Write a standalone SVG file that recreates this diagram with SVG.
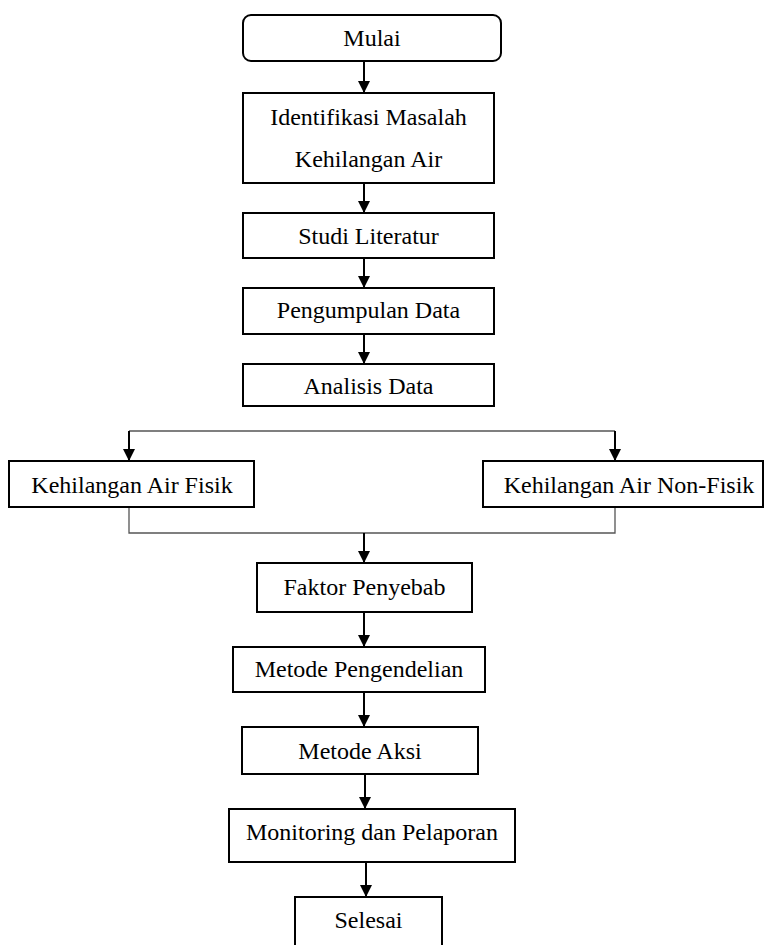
<svg xmlns="http://www.w3.org/2000/svg" width="764" height="945" viewBox="0 0 764 945">
  <style>
    .box { fill: #fff; stroke: #000; stroke-width: 2; }
    .lbl { font-family: "Liberation Serif", "Times New Roman", serif; font-size: 24px; fill: #000; text-anchor: middle; }
    .arrow { stroke: #000; stroke-width: 2; fill: none; marker-end: url(#ah); }
    .thin { stroke: #555; stroke-width: 1.3; fill: none; }
  </style>
  <defs>
    <marker id="ah" markerUnits="userSpaceOnUse" markerWidth="12" markerHeight="12" refX="12" refY="6" orient="auto">
      <path d="M0,0 L12,6 L0,12 z" fill="#000"/>
    </marker>
  </defs>
  <rect width="764" height="945" fill="#fff"/>

  <g id="connectors">
    <line class="arrow" x1="364" y1="61" x2="364" y2="93"/>
    <line class="arrow" x1="364" y1="183" x2="364" y2="213"/>
    <line class="arrow" x1="364" y1="258" x2="364" y2="288"/>
    <line class="arrow" x1="364" y1="334" x2="364" y2="364"/>
    <line class="thin" x1="129" y1="431" x2="615" y2="431"/>
    <line class="arrow" x1="129" y1="431" x2="129" y2="461"/>
    <line class="arrow" x1="615" y1="431" x2="615" y2="461"/>
    <polyline class="thin" points="129,507 129,533 615,533 615,507"/>
    <line class="arrow" x1="364" y1="533" x2="364" y2="563"/>
    <line class="arrow" x1="364" y1="612" x2="364" y2="647"/>
    <line class="arrow" x1="364" y1="692" x2="364" y2="727"/>
    <line class="arrow" x1="365" y1="774" x2="365" y2="809"/>
    <line class="arrow" x1="366" y1="862" x2="366" y2="897"/>
  </g>

  <g id="mulai">
    <rect class="box" x="243" y="15" width="258" height="46" rx="8"/>
    <text class="lbl" x="372" y="46">Mulai</text>
  </g>
  <g id="identifikasi">
    <rect class="box" x="243" y="93" width="251" height="90"/>
    <text class="lbl" x="368.5" y="125">Identifikasi Masalah</text>
    <text class="lbl" x="368.5" y="167">Kehilangan Air</text>
  </g>
  <g id="studi">
    <rect class="box" x="243" y="213" width="251" height="45"/>
    <text class="lbl" x="368.5" y="244">Studi Literatur</text>
  </g>
  <g id="pengumpulan">
    <rect class="box" x="243" y="288" width="251" height="46"/>
    <text class="lbl" x="368.5" y="318">Pengumpulan Data</text>
  </g>
  <g id="analisis">
    <rect class="box" x="243" y="364" width="251" height="42"/>
    <text class="lbl" x="368.5" y="394">Analisis Data</text>
  </g>
  <g id="fisik">
    <rect class="box" x="9" y="461" width="245" height="46"/>
    <text class="lbl" x="132" y="493">Kehilangan Air Fisik</text>
  </g>
  <g id="nonfisik">
    <rect class="box" x="483" y="461" width="280" height="46"/>
    <text class="lbl" x="629" y="493">Kehilangan Air Non-Fisik</text>
  </g>
  <g id="faktor">
    <rect class="box" x="257" y="563" width="215" height="49"/>
    <text class="lbl" x="364.5" y="595">Faktor Penyebab</text>
  </g>
  <g id="pengendelian">
    <rect class="box" x="233" y="647" width="252" height="45"/>
    <text class="lbl" x="359" y="677">Metode Pengendelian</text>
  </g>
  <g id="aksi">
    <rect class="box" x="242" y="727" width="236" height="47"/>
    <text class="lbl" x="360" y="759">Metode Aksi</text>
  </g>
  <g id="monitoring">
    <rect class="box" x="229" y="809" width="286" height="53"/>
    <text class="lbl" x="372" y="840">Monitoring dan Pelaporan</text>
  </g>
  <g id="selesai">
    <rect class="box" x="295" y="897" width="147" height="52"/>
    <text class="lbl" x="368.5" y="928">Selesai</text>
  </g>
</svg>
